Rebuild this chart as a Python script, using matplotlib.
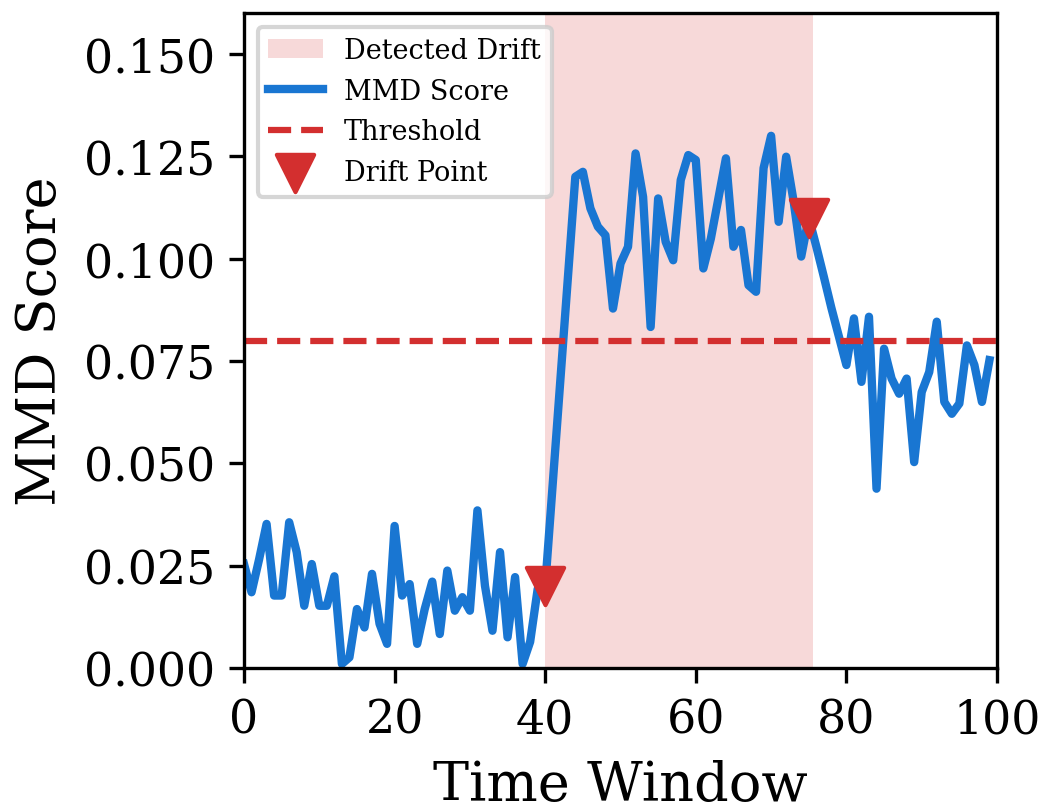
import numpy as np
import matplotlib
matplotlib.use('Agg')
import matplotlib.pyplot as plt

# MMD scores per time window
windows = np.arange(100)
mmd_score = [
    0.0254, 0.0185, 0.0265, 0.0352, 0.0177, 0.0177, 0.0356, 0.0283, 0.0152, 0.0254,
    0.0152, 0.0152, 0.0224, 0.0010, 0.0026, 0.0144, 0.0099, 0.0230, 0.0108, 0.0059,
    0.0347, 0.0177, 0.0205, 0.0059, 0.0144, 0.0211, 0.0083, 0.0238, 0.0140, 0.0173,
    0.0140, 0.0385, 0.0201, 0.0091, 0.0283, 0.0075, 0.0222, 0.0010, 0.0064, 0.0193,
    0.0200, 0.0450, 0.0700, 0.0950, 0.1200, 0.1212, 0.1123, 0.1078, 0.1057, 0.0878,
    0.0988, 0.1029, 0.1257, 0.1151, 0.0833, 0.1147, 0.1041, 0.0996, 0.1192, 0.1253,
    0.1241, 0.0976, 0.1049, 0.1147, 0.1245, 0.1029, 0.1070, 0.0935, 0.0919, 0.1221,
    0.1300, 0.1090, 0.1249, 0.1139, 0.1005, 0.1100, 0.1030, 0.0956, 0.0880, 0.0810,
    0.0740, 0.0854, 0.0699, 0.0858, 0.0438, 0.0780, 0.0707, 0.0670, 0.0707, 0.0503,
    0.0674, 0.0723, 0.0846, 0.0650, 0.0621, 0.0646, 0.0788, 0.0740, 0.0650, 0.0752,
]
threshold = 0.08
drift_points = [40, 75]
drift_start, drift_end = 40, 75.5

blue = '#1976D2'
red = '#D32F2F'

plt.rcParams['font.family'] = 'DejaVu Serif'

fig = plt.figure(figsize=(1043 / 300, 805 / 300), dpi=300)
ax = fig.add_axes([244 / 1043, 1 - 669 / 805, (997 - 244) / 1043, (669 - 14) / 805])

ax.axvspan(drift_start, drift_end, color=red, alpha=0.18, lw=0, label='Detected Drift')
ax.plot(windows, mmd_score, color=blue, lw=2, label='MMD Score')
ax.axhline(threshold, color=red, ls='--', lw=1.5, label='Threshold')
ax.scatter(drift_points, [mmd_score[i] for i in drift_points], marker='v', s=80,
           color=red, zorder=5, label='Drift Point')

ax.set_xlim(0, 100)
ax.set_ylim(0, 0.16)
ax.set_xticks([0, 20, 40, 60, 80, 100])
ax.set_yticks(np.arange(0, 0.151, 0.025))
ax.yaxis.set_major_formatter(matplotlib.ticker.FormatStrFormatter('%.3f'))
ax.tick_params(labelsize=11)
ax.set_xlabel('Time Window', fontsize=13)
ax.set_ylabel('MMD Score', fontsize=13)

ax.legend(loc='upper left', fontsize=6.5)

fig.savefig('out.png', dpi=300)
